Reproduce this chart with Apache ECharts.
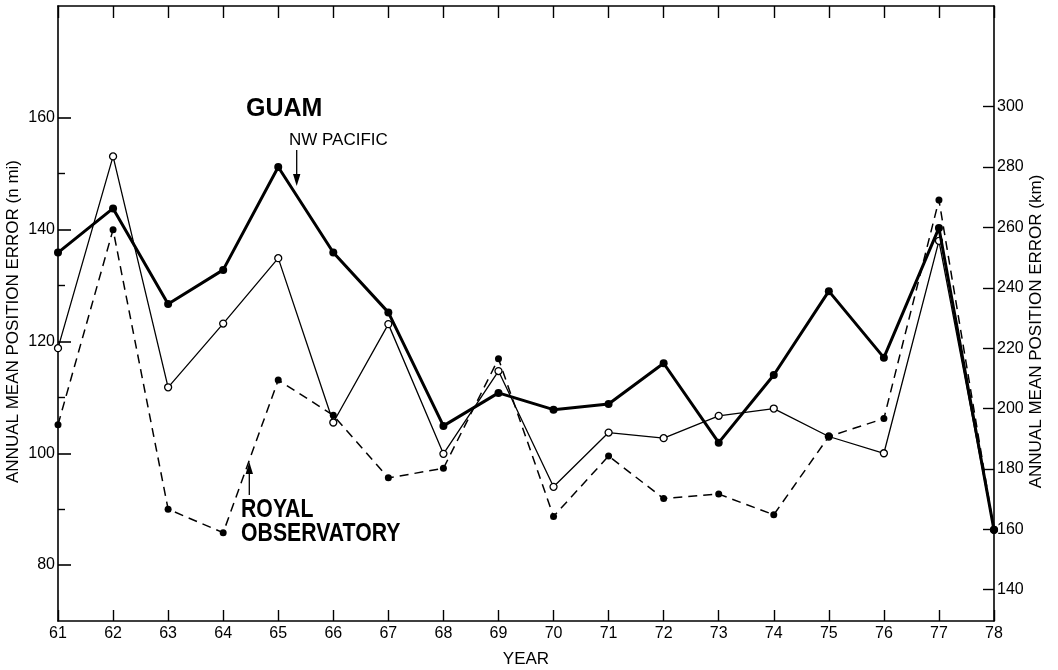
<!DOCTYPE html>
<html>
<head>
<meta charset="utf-8">
<script src="https://cdn.jsdelivr.net/npm/echarts@6/dist/echarts.min.js"></script>
<style>
  html, body { margin: 0; padding: 0; background: #ffffff; }
  #chart { width: 1058px; height: 670px; }
</style>
</head>
<body>
<div id="chart"></div>
<script>
// ---- data ----
const years = [61, 62, 63, 64, 65, 66, 67, 68, 69, 70, 71, 72, 73, 74, 75, 76, 77, 78];
const nwPacific = [135.9, 143.8, 126.7, 132.8, 151.2, 135.9, 125.2, 104.9, 110.8, 107.8, 108.8, 116.1, 101.9, 114.0, 129.0, 117.1, 140.3, 86.3];
const guam = [118.8, 153.1, 111.8, 123.2, 134.9, 105.5, 123.1, 99.9, 114.7, 94.0, 103.7, 102.7, 106.7, 108.0, 103.0, 100.0, 138.0, 86.3];
const royalObservatory = [105.1, 140.0, 90.0, 85.8, 113.1, 106.8, 95.6, 97.3, 116.9, 88.7, 99.5, 91.9, 92.7, 89.0, 103.0, 106.2, 145.3, 86.3];

const leftTickLabels = [80, 100, 120, 140, 160];     // n mi
const leftMinorTicks = [90, 110, 130, 150];          // n mi
const rightTickLabels = [140, 160, 180, 200, 220, 240, 260, 280, 300]; // km
const nmiMin = 70, nmiMax = 180;
const NMI_TO_KM = 1.852;

const FONT = "'Liberation Sans', Arial, sans-serif";

function pairs(vals) { return years.map((y, i) => [y, vals[i]]); }

const chart = echarts.init(document.getElementById('chart'), null, { renderer: 'canvas' });

const axisLineStyle = { color: '#000', width: 1.6 };

const option = {
  backgroundColor: '#ffffff',
  animation: false,
  grid: { left: 58, right: 64, top: 6, bottom: 49, containLabel: false, outerBoundsMode: 'none' },
  xAxis: [
    {
      type: 'value', position: 'bottom', min: years[0], max: years[years.length - 1], interval: 1,
      name: 'YEAR', nameLocation: 'middle', nameGap: 30, nameMoveOverlap: false,
      nameTextStyle: { color: '#000', fontSize: 17, fontFamily: FONT },
      axisLine: { show: true, lineStyle: axisLineStyle },
      axisTick: { show: true, inside: true, length: 11, lineStyle: { color: '#000', width: 1.4 } },
      axisLabel: { show: true, color: '#000', fontSize: 16, fontFamily: FONT, margin: 5 },
      splitLine: { show: false }
    },
    {
      type: 'value', position: 'top', min: years[0], max: years[years.length - 1], interval: 1,
      axisLine: { show: true, lineStyle: axisLineStyle },
      axisTick: { show: true, inside: true, length: 12, lineStyle: { color: '#000', width: 1.4 } },
      axisLabel: { show: false },
      splitLine: { show: false }
    }
  ],
  yAxis: [
    {
      type: 'value', position: 'left', min: nmiMin, max: nmiMax,
      name: 'ANNUAL MEAN POSITION ERROR (n mi)', nameLocation: 'middle', nameGap: 36, nameMoveOverlap: false,
      nameTextStyle: { color: '#000', fontSize: 17, fontFamily: FONT, padding: [0, 16, 0, 0] },
      axisLine: { show: true, lineStyle: axisLineStyle },
      axisTick: { show: true, inside: true, length: 13, customValues: leftTickLabels, lineStyle: { color: '#000', width: 1.6 } },
      axisLabel: { show: true, customValues: leftTickLabels, color: '#000', fontSize: 16, fontFamily: FONT, margin: 3 },
      splitLine: { show: false }
    },
    {
      type: 'value', position: 'right', min: nmiMin * NMI_TO_KM, max: nmiMax * NMI_TO_KM,
      name: 'ANNUAL MEAN POSITION ERROR (km)', nameLocation: 'middle', nameGap: 34, nameMoveOverlap: false,
      nameTextStyle: { color: '#000', fontSize: 17, fontFamily: FONT, padding: [0, 36, 0, 0] },
      axisLine: { show: true, lineStyle: axisLineStyle },
      axisTick: { show: true, inside: true, length: 11, customValues: rightTickLabels, lineStyle: { color: '#000', width: 1.4 } },
      axisLabel: { show: true, customValues: rightTickLabels, color: '#000', fontSize: 16, fontFamily: FONT, margin: 3 },
      splitLine: { show: false }
    },
    {
      type: 'value', position: 'left', min: nmiMin, max: nmiMax,
      axisLine: { show: false },
      axisTick: { show: true, inside: true, length: 7, customValues: leftMinorTicks, lineStyle: { color: '#000', width: 1.4 } },
      axisLabel: { show: false },
      splitLine: { show: false }
    }
  ],
  series: [
    {
      name: 'Guam', type: 'line', xAxisIndex: 0, yAxisIndex: 0, data: pairs(guam),
      symbol: 'circle', symbolSize: 7, showSymbol: true,
      lineStyle: { color: '#000', width: 1.3 },
      itemStyle: { color: '#fff', borderColor: '#000', borderWidth: 1.3 },
      z: 2
    },
    {
      name: 'Royal Observatory', type: 'line', xAxisIndex: 0, yAxisIndex: 0, data: pairs(royalObservatory),
      symbol: 'circle', symbolSize: 7, showSymbol: true,
      lineStyle: { color: '#000', width: 1.5, type: [9, 6] },
      itemStyle: { color: '#000', borderColor: '#000', borderWidth: 0 },
      z: 3
    },
    {
      name: 'NW Pacific', type: 'line', xAxisIndex: 0, yAxisIndex: 0, data: pairs(nwPacific),
      symbol: 'circle', symbolSize: 8, showSymbol: true,
      lineStyle: { color: '#000', width: 3 },
      itemStyle: { color: '#000', borderColor: '#000', borderWidth: 0 },
      z: 4
    }
  ],
  graphic: [
    { type: 'text', left: 246, top: 97, z: 10,
      style: { text: 'GUAM', fill: '#000', font: "bold 25px 'Liberation Sans', Arial, sans-serif" } },
    { type: 'text', left: 289, top: 132, z: 10,
      style: { text: 'NW PACIFIC', fill: '#000', font: "17px 'Liberation Sans', Arial, sans-serif" } },
    { type: 'line', z: 10, shape: { x1: 296.7, y1: 150, x2: 296.7, y2: 177 }, style: { stroke: '#000', lineWidth: 1.3 } },
    { type: 'polygon', z: 10, shape: { points: [[293, 174], [300.4, 174], [296.7, 186]] }, style: { fill: '#000' } },
    { type: 'text', x: 241, y: 498, scaleX: 0.85, z: 10,
      style: { text: 'ROYAL', fill: '#000', font: "bold 25px 'Liberation Sans', Arial, sans-serif", verticalAlign: 'top', align: 'left' } },
    { type: 'text', x: 241, y: 522, scaleX: 0.85, z: 10,
      style: { text: 'OBSERVATORY', fill: '#000', font: "bold 25px 'Liberation Sans', Arial, sans-serif", verticalAlign: 'top', align: 'left' } },
    { type: 'line', z: 10, shape: { x1: 249.3, y1: 495, x2: 249.3, y2: 471 }, style: { stroke: '#000', lineWidth: 1.3 } },
    { type: 'polygon', z: 10, shape: { points: [[245.6, 474], [253, 474], [249.3, 462]] }, style: { fill: '#000' } }
  ]
};

chart.setOption(option);
</script>
</body>
</html>
